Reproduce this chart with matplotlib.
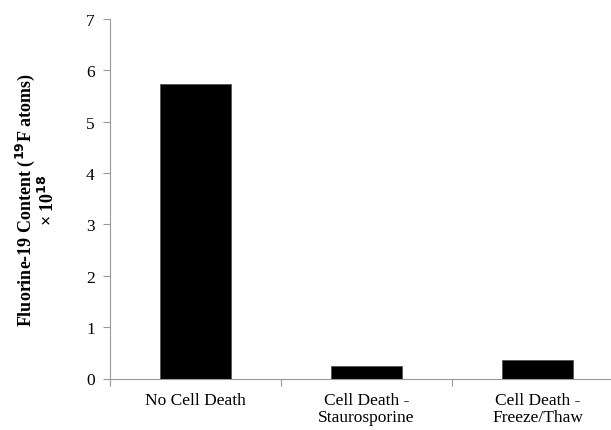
import matplotlib
matplotlib.use("Agg")
import matplotlib.pyplot as plt
import numpy as np

categories = ["No Cell Death", "Cell Death -\nStaurosporine", "Cell Death -\nFreeze/Thaw"]
values = [5.73, 0.24, 0.36]
yticks = [0, 1, 2, 3, 4, 5, 6, 7]

plt.rcParams['font.family'] = ['Liberation Serif', 'DejaVu Serif']

fig = plt.figure(figsize=(6.11, 4.31), dpi=100)
W, H = 611, 431
x0, x1 = 110, 623
y0, y1 = 379.5, 20
ax = fig.add_axes([x0 / W, 1 - y0 / H, (x1 - x0) / W, (y0 - y1) / H])

x = np.arange(len(categories))
ax.bar(x, values, width=0.41, color='black', edgecolor='#555555', linewidth=0.6)
ax.set_xlim(-0.5, len(categories) - 0.5)
ax.set_ylim(0, 7)
ax.set_yticks(yticks)
ax.set_yticklabels([str(t) for t in yticks], fontsize=12.5)

ax.set_xticks(np.arange(-0.5, len(categories), 1.0))
ax.set_xticklabels([])
ax.set_xticks(x, minor=True)
ax.set_xticklabels(categories, minor=True, fontsize=12.5, linespacing=1.05)
ax.tick_params(axis='x', which='minor', length=0, pad=10)
ax.tick_params(axis='x', which='major', length=5, color='#999999', width=0.8)
ax.tick_params(axis='y', length=5, color='#999999', width=0.8, pad=6)

for s in ['top', 'right']:
    ax.spines[s].set_visible(False)
for s in ['left', 'bottom']:
    ax.spines[s].set_color('#999999')
    ax.spines[s].set_linewidth(0.8)

ax.set_ylabel("Fluorine-19 Content ($\\mathbf{^{19}}$F atoms)\n× 10$^{\\mathbf{18}}$",
              fontsize=13, fontweight='bold', labelpad=20, linespacing=1.05)

fig.savefig("out.png", dpi=100)
